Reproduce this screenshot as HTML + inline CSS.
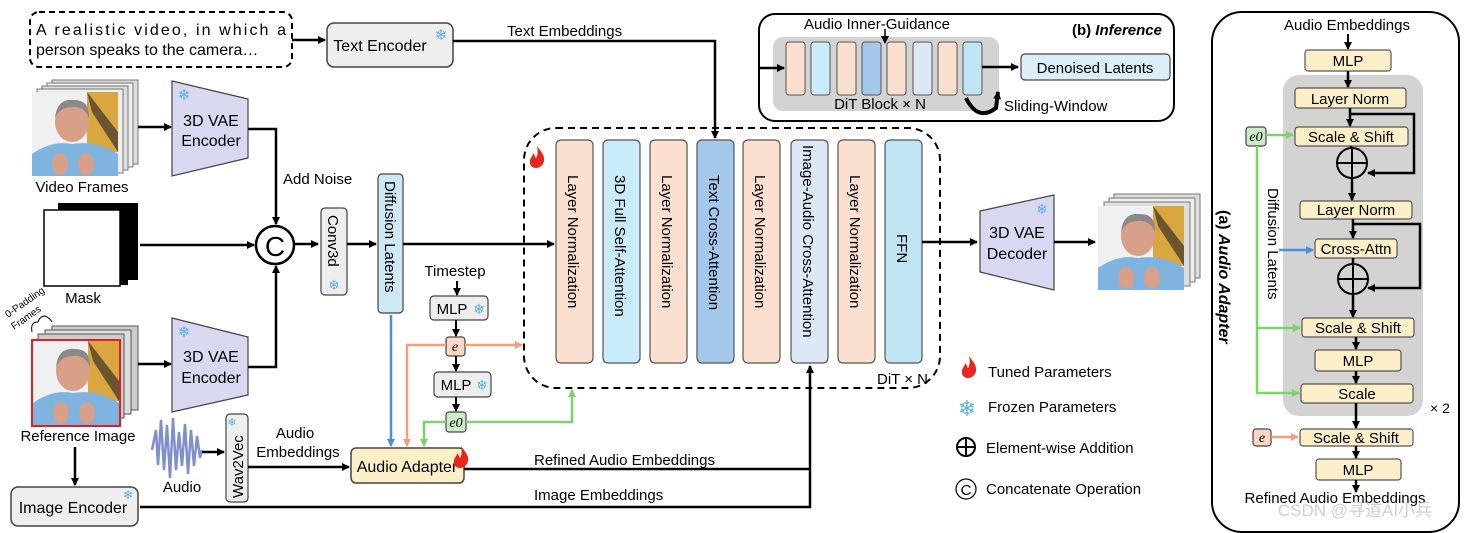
<!DOCTYPE html>
<html><head><meta charset="utf-8"><style>
html,body{margin:0;padding:0;background:#fff;}
svg{display:block;font-family:"Liberation Sans",Arial,sans-serif;}
</style></head><body>
<svg width="1473" height="533" viewBox="0 0 1473 533" xmlns="http://www.w3.org/2000/svg">
<defs>
<marker id="ak" markerWidth="8" markerHeight="8" refX="7" refY="4" orient="auto" markerUnits="userSpaceOnUse"><path d="M0,0 L8,4 L0,8 z" fill="#000"/></marker>
<marker id="ab" markerWidth="8" markerHeight="8" refX="7" refY="4" orient="auto" markerUnits="userSpaceOnUse"><path d="M0,0 L8,4 L0,8 z" fill="#4a90d9"/></marker>
<marker id="ao" markerWidth="8" markerHeight="8" refX="7" refY="4" orient="auto" markerUnits="userSpaceOnUse"><path d="M0,0 L8,4 L0,8 z" fill="#f0a07a"/></marker>
<marker id="ag" markerWidth="8" markerHeight="8" refX="7" refY="4" orient="auto" markerUnits="userSpaceOnUse"><path d="M0,0 L8,4 L0,8 z" fill="#7dd36a"/></marker>
<g id="face">
<rect x="0" y="0" width="86" height="84" fill="#eef0f2"/>
<rect x="55" y="0" width="31" height="60" fill="#d9a640"/>
<path d="M55,0 L86,40 L86,60 L60,20z" fill="#6b5530"/>
<ellipse cx="40" cy="30" rx="17" ry="20" fill="#d8a088"/>
<path d="M23,26 Q25,6 42,8 Q58,8 57,26 Q52,14 40,15 Q28,15 23,26z" fill="#8a8a8a"/>
<path d="M0,84 L0,62 Q20,48 40,52 Q64,48 86,62 L86,84z" fill="#7fb4e0"/>
<ellipse cx="28" cy="72" rx="8" ry="11" fill="#d8a088"/>
<ellipse cx="54" cy="72" rx="8" ry="11" fill="#d8a088"/>
</g>
<g id="flame"><path d="M6,0 C10,6 14,9 13,15 C12,20 8,22 5,22 C1,22 -2,19 -1,14 C0,11 2,10 2,7 C4,9 4,11 5,12 C7,9 7,5 6,0z" fill="#e8261b"/></g>
</defs>

<!-- Text prompt -->
<rect x="30" y="12" width="262" height="55" rx="9" fill="#fff" stroke="#000" stroke-width="2" stroke-dasharray="6,4"/>
<text x="36" y="35" font-size="16" textLength="250">A realistic video, in which a</text>
<text x="36" y="55" font-size="16">person speaks to the camera…</text>
<line x1="292" y1="40" x2="325" y2="40" stroke="#000" stroke-width="2.5" marker-end="url(#ak)"/>
<rect x="327" y="23" width="126" height="44" rx="7" fill="#eee" stroke="#444" stroke-width="1.5"/>
<text x="380" y="51" font-size="16" text-anchor="middle">Text Encoder</text>
<text x="441" y="40" font-size="15" fill="#5ab0e6" text-anchor="middle">❄</text>
<polyline points="453,41 715,41 715,138" fill="none" stroke="#000" stroke-width="2.5" marker-end="url(#ak)"/>
<text x="507" y="36" font-size="15">Text Embeddings</text>

<!-- Video frames -->
<rect x="52" y="80" width="86" height="84" fill="#ddd" stroke="#777"/>
<rect x="47" y="83" width="86" height="84" fill="#eee" stroke="#777"/>
<rect x="42" y="86" width="86" height="84" fill="#ddd" stroke="#777"/>
<rect x="37" y="89" width="86" height="84" fill="#eee" stroke="#777"/>
<use href="#face" x="32" y="92"/>
<text x="82" y="192" font-size="15" text-anchor="middle">Video Frames</text>
<line x1="138" y1="127" x2="171" y2="127" stroke="#000" stroke-width="2.5" marker-end="url(#ak)"/>
<path d="M172,81 L248,99 L248,158 L172,176z" fill="#d8d8f0" stroke="#444" stroke-width="1.2"/>
<text x="184" y="100" font-size="15" fill="#5ab0e6" text-anchor="middle">❄</text>
<text x="211" y="126" font-size="16" text-anchor="middle">3D VAE</text>
<text x="211" y="146" font-size="16" text-anchor="middle">Encoder</text>
<polyline points="248,129 276,129 276,224" fill="none" stroke="#000" stroke-width="2.5" marker-end="url(#ak)"/>
<text x="283" y="184" font-size="15">Add Noise</text>

<!-- Mask -->
<path d="M58,203 L138,203 L138,280 L128,280 L128,285 L58,285z" fill="#000"/>
<rect x="44" y="210" width="76" height="76" fill="#fff" stroke="#000" stroke-width="1.5"/>
<text x="83" y="303" font-size="15" text-anchor="middle">Mask</text>
<line x1="140" y1="245" x2="254" y2="245" stroke="#000" stroke-width="2.5" marker-end="url(#ak)"/>
<circle cx="275" cy="245" r="19" fill="#fff" stroke="#000" stroke-width="2.5"/>
<text x="275" y="256" font-size="28" text-anchor="middle">C</text>

<!-- Ref image -->
<text x="8" y="318" font-size="10" transform="rotate(-35 8 318)">0-Padding</text>
<text x="14" y="330" font-size="10" transform="rotate(-35 14 330)">Frames</text>
<path d="M32,332 Q30,322 38,322 Q40,316 45,316 Q50,318 52,322" fill="none" stroke="#000" stroke-width="1"/>
<rect x="52" y="326" width="86" height="84" fill="#ccc" stroke="#555"/>
<rect x="45" y="330" width="86" height="84" fill="#ddd" stroke="#555"/>
<rect x="38" y="334" width="86" height="84" fill="#ccc" stroke="#555"/>
<use href="#face" x="33" y="341"/>
<rect x="32" y="340" width="88" height="86" fill="none" stroke="#e02020" stroke-width="2"/>
<text x="78" y="441" font-size="15" text-anchor="middle">Reference Image</text>
<line x1="75" y1="447" x2="75" y2="485" stroke="#000" stroke-width="2.5" marker-end="url(#ak)"/>
<line x1="138" y1="364" x2="171" y2="364" stroke="#000" stroke-width="2.5" marker-end="url(#ak)"/>
<path d="M172,318 L248,337 L248,395 L172,412z" fill="#d8d8f0" stroke="#444" stroke-width="1.2"/>
<text x="184" y="337" font-size="15" fill="#5ab0e6" text-anchor="middle">❄</text>
<text x="211" y="362" font-size="16" text-anchor="middle">3D VAE</text>
<text x="211" y="383" font-size="16" text-anchor="middle">Encoder</text>
<polyline points="248,367 276,367 276,266" fill="none" stroke="#000" stroke-width="2.5" marker-end="url(#ak)"/>

<!-- Image encoder -->
<rect x="11" y="487" width="127" height="39" rx="7" fill="#eee" stroke="#444" stroke-width="1.5"/>
<text x="73" y="513" font-size="16" text-anchor="middle">Image Encoder</text>
<text x="128" y="499" font-size="12" fill="#5ab0e6" text-anchor="middle">❄</text>
<polyline points="140,507 810,507 810,366" fill="none" stroke="#000" stroke-width="2.5" marker-end="url(#ak)"/>
<text x="534" y="500" font-size="15">Image Embeddings</text>

<!-- Audio -->
<path d="M152,450 L156,430 L158,465 L161,420 L164,470 L167,425 L170,478 L173,418 L176,470 L179,432 L182,466 L185,424 L188,474 L191,430 L194,466 L197,436 L200,458 L202,450" fill="none" stroke="#8090c8" stroke-width="2.5"/>
<text x="182" y="492" font-size="15" text-anchor="middle">Audio</text>
<line x1="202" y1="452" x2="224" y2="452" stroke="#000" stroke-width="2.5" marker-end="url(#ak)"/>
<rect x="226" y="414" width="22" height="88" rx="4" fill="#eee" stroke="#444" stroke-width="1.2"/>
<text x="232" y="426" font-size="11" fill="#5ab0e6" text-anchor="middle">❄</text>
<text x="243" y="498" font-size="15" transform="rotate(-90 243 498)">Wav2Vec</text>
<line x1="248" y1="467" x2="349" y2="467" stroke="#000" stroke-width="2.5" marker-end="url(#ak)"/>
<text x="295" y="438" font-size="15" text-anchor="middle">Audio</text>
<text x="298" y="457" font-size="15" text-anchor="middle">Embeddings</text>

<!-- Conv3d / Diffusion latents -->
<line x1="295" y1="244" x2="318" y2="244" stroke="#000" stroke-width="2.5" marker-end="url(#ak)"/>
<rect x="321" y="208" width="26" height="87" rx="4" fill="#eee" stroke="#444" stroke-width="1.2"/>
<text x="328" y="215" font-size="15" transform="rotate(90 328 215)">Conv3d</text>
<text x="334" y="290" font-size="14" fill="#5ab0e6" text-anchor="middle">❄</text>
<line x1="347" y1="244" x2="376" y2="244" stroke="#000" stroke-width="2.5" marker-end="url(#ak)"/>
<rect x="378" y="174" width="25" height="139" rx="4" fill="#cfe8f5" stroke="#444" stroke-width="1.2"/>
<text x="385" y="181" font-size="15" transform="rotate(90 385 181)">Diffusion Latents</text>
<line x1="403" y1="244" x2="554" y2="244" stroke="#000" stroke-width="2.5" marker-end="url(#ak)"/>

<!-- Timestep -->
<text x="455" y="276" font-size="15" text-anchor="middle">Timestep</text>
<line x1="457" y1="281" x2="457" y2="295" stroke="#000" stroke-width="2" marker-end="url(#ak)"/>
<rect x="430" y="296" width="58" height="24" rx="4" fill="#eee" stroke="#444" stroke-width="1.2"/>
<text x="452" y="314" font-size="15" text-anchor="middle">MLP</text>
<text x="479" y="314" font-size="14" fill="#5ab0e6" text-anchor="middle">❄</text>
<line x1="456" y1="320" x2="456" y2="336" stroke="#000" stroke-width="2" marker-end="url(#ak)"/>
<rect x="446" y="337" width="19" height="19" rx="3" fill="#fbd8c6" stroke="#444" stroke-width="1.2"/>
<text x="455" y="351" font-size="14" font-style="italic" font-family="Liberation Serif,serif" text-anchor="middle">e</text>
<line x1="456" y1="356" x2="456" y2="371" stroke="#000" stroke-width="2" marker-end="url(#ak)"/>
<rect x="434" y="372" width="57" height="25" rx="4" fill="#eee" stroke="#444" stroke-width="1.2"/>
<text x="456" y="390" font-size="15" text-anchor="middle">MLP</text>
<text x="482" y="390" font-size="14" fill="#5ab0e6" text-anchor="middle">❄</text>
<line x1="456" y1="397" x2="456" y2="411" stroke="#000" stroke-width="2" marker-end="url(#ak)"/>
<rect x="446" y="412" width="20" height="20" rx="3" fill="#cdebc4" stroke="#444" stroke-width="1.2"/>
<text x="456" y="427" font-size="14" font-style="italic" font-family="Liberation Serif,serif" text-anchor="middle">e0</text>

<!-- colored lines -->
<line x1="391" y1="315" x2="391" y2="446" stroke="#4a90d9" stroke-width="2.5" marker-end="url(#ab)"/>
<polyline points="446,345 407,345 407,446" fill="none" stroke="#f0a07a" stroke-width="2.5" marker-end="url(#ao)"/>
<line x1="465" y1="345" x2="522" y2="345" stroke="#f0a07a" stroke-width="2.5" marker-end="url(#ao)"/>
<polyline points="446,422 424,422 424,446" fill="none" stroke="#7dd36a" stroke-width="2.5" marker-end="url(#ag)"/>
<polyline points="466,422 572,422 572,390" fill="none" stroke="#7dd36a" stroke-width="2.5" marker-end="url(#ag)"/>

<!-- Audio Adapter -->
<rect x="351" y="448" width="113" height="35" rx="5" fill="#fdf0c8" stroke="#444" stroke-width="1.5"/>
<text x="407" y="472" font-size="16" text-anchor="middle">Audio Adapter</text>
<use href="#flame" x="455" y="446" transform="scale(1)"/>
<line x1="464" y1="469" x2="810" y2="469" stroke="#000" stroke-width="2.5"/>
<text x="534" y="465" font-size="15">Refined Audio Embeddings</text>

<!-- DiT block -->
<rect x="524" y="128" width="416" height="260" rx="32" fill="none" stroke="#000" stroke-width="2" stroke-dasharray="7,5"/>
<use href="#flame" x="531" y="146" transform="scale(1)"/>
<g stroke="#555" stroke-width="1.2">
<rect x="556" y="140" width="37" height="223" rx="5" fill="#fbe0d0"/>
<rect x="603" y="140" width="37" height="223" rx="5" fill="#c9ecfa"/>
<rect x="650" y="140" width="37" height="223" rx="5" fill="#fbe0d0"/>
<rect x="697" y="140" width="37" height="223" rx="5" fill="#a3c8ec"/>
<rect x="743" y="140" width="37" height="223" rx="5" fill="#fbe0d0"/>
<rect x="791" y="140" width="37" height="223" rx="5" fill="#dce8f6"/>
<rect x="838" y="140" width="37" height="223" rx="5" fill="#fbe0d0"/>
<rect x="885" y="140" width="37" height="223" rx="5" fill="#bfe4f4"/>
</g>
<g font-size="15">
<text x="568" y="175" transform="rotate(90 568 175)">Layer Normalization</text>
<text x="615" y="175" transform="rotate(90 615 175)">3D Full Self-Attention</text>
<text x="662" y="175" transform="rotate(90 662 175)">Layer Normalization</text>
<text x="709" y="175" transform="rotate(90 709 175)">Text Cross-Attention</text>
<text x="755" y="175" transform="rotate(90 755 175)">Layer Normalization</text>
<text x="803" y="145" transform="rotate(90 803 145)">Image-Audio Cross-Attention</text>
<text x="850" y="175" transform="rotate(90 850 175)">Layer Normalization</text>
<text x="897" y="234" transform="rotate(90 897 234)">FFN</text>
</g>
<text x="877" y="384" font-size="15">DiT × N</text>

<!-- decoder -->
<line x1="922" y1="242" x2="977" y2="242" stroke="#000" stroke-width="2.5" marker-end="url(#ak)"/>
<path d="M980,211 L1054,195 L1054,290 L980,272z" fill="#d8d8f0" stroke="#444" stroke-width="1.2"/>
<text x="1042" y="214" font-size="14" fill="#5ab0e6" text-anchor="middle">❄</text>
<text x="1017" y="238" font-size="16" text-anchor="middle">3D VAE</text>
<text x="1017" y="259" font-size="16" text-anchor="middle">Decoder</text>
<line x1="1054" y1="242" x2="1095" y2="242" stroke="#000" stroke-width="2.5" marker-end="url(#ak)"/>
<rect x="1114" y="194" width="86" height="84" fill="#ddd" stroke="#777"/>
<rect x="1109" y="198" width="86" height="84" fill="#eee" stroke="#777"/>
<rect x="1104" y="202" width="86" height="84" fill="#ddd" stroke="#777"/>
<use href="#face" x="1098" y="206"/>

<!-- Inference -->
<rect x="759" y="14" width="415" height="107" rx="16" fill="#fff" stroke="#000" stroke-width="2"/>
<rect x="773" y="37" width="226" height="74" rx="10" fill="#d3d3d3"/>
<g stroke="#555" stroke-width="1">
<rect x="786" y="42" width="19" height="53" rx="3" fill="#fbe0d0"/>
<rect x="811" y="42" width="19" height="53" rx="3" fill="#c9ecfa"/>
<rect x="837" y="42" width="19" height="53" rx="3" fill="#fbe0d0"/>
<rect x="862" y="42" width="19" height="53" rx="3" fill="#a3c8ec"/>
<rect x="887" y="42" width="19" height="53" rx="3" fill="#fbe0d0"/>
<rect x="913" y="42" width="19" height="53" rx="3" fill="#dce8f6"/>
<rect x="938" y="42" width="19" height="53" rx="3" fill="#fbe0d0"/>
<rect x="963" y="42" width="19" height="53" rx="3" fill="#bfe4f4"/>
</g>
<text x="877" y="29" font-size="15" text-anchor="middle">Audio Inner-Guidance</text>
<line x1="885" y1="29" x2="885" y2="43" stroke="#000" stroke-width="1.5" marker-end="url(#ak)"/>
<text x="1162" y="35" font-size="15" font-weight="bold" text-anchor="end">(b) <tspan font-style="italic">Inference</tspan></text>
<line x1="759" y1="68" x2="784" y2="68" stroke="#000" stroke-width="2.5" marker-end="url(#ak)"/>
<line x1="982" y1="67" x2="1018" y2="67" stroke="#000" stroke-width="2.5" marker-end="url(#ak)"/>
<rect x="1021" y="54" width="149" height="26" rx="4" fill="#dceef8" stroke="#444" stroke-width="1.2"/>
<text x="1095" y="73" font-size="15" text-anchor="middle">Denoised Latents</text>
<text x="880" y="109" font-size="15" text-anchor="middle">DiT Block  × N</text>
<path d="M966,98 Q978,122 996,108 L998,92" fill="none" stroke="#000" stroke-width="4" marker-end="url(#ak)"/>
<text x="1004" y="111" font-size="15">Sliding-Window</text>

<!-- legend -->
<use href="#flame" x="963" y="356"/>
<text x="988" y="377" font-size="15">Tuned Parameters</text>
<text x="967" y="416" font-size="22" fill="#5ab0e6" text-anchor="middle">❄</text>
<text x="988" y="412" font-size="15">Frozen Parameters</text>
<circle cx="966" cy="447" r="9" fill="#fff" stroke="#000" stroke-width="2"/>
<line x1="957" y1="447" x2="975" y2="447" stroke="#000" stroke-width="2"/>
<line x1="966" y1="438" x2="966" y2="456" stroke="#000" stroke-width="2"/>
<text x="986" y="453" font-size="15">Element-wise Addition</text>
<circle cx="966" cy="489" r="10" fill="#fff" stroke="#000" stroke-width="1.2"/>
<text x="966" y="495" font-size="15" text-anchor="middle">C</text>
<text x="986" y="494" font-size="15">Concatenate Operation</text>

<!-- Audio adapter panel -->
<rect x="1212" y="12" width="247" height="520" rx="30" fill="#fff" stroke="#000" stroke-width="2"/>
<text x="1347" y="30" font-size="15" text-anchor="middle">Audio Embeddings</text>
<line x1="1348" y1="34" x2="1348" y2="49" stroke="#000" stroke-width="2" marker-end="url(#ak)"/>
<rect x="1283" y="75" width="140" height="341" rx="16" fill="#d3d3d3"/>
<g stroke="#555" stroke-width="1.2" fill="#fdf0c8">
<rect x="1305" y="50" width="86" height="21" rx="3"/>
<rect x="1295" y="88" width="111" height="20" rx="3"/>
<rect x="1295" y="127" width="113" height="19" rx="3"/>
<rect x="1300" y="201" width="112" height="18" rx="3"/>
<rect x="1315" y="239" width="82" height="19" rx="3"/>
<rect x="1302" y="318" width="112" height="19" rx="3"/>
<rect x="1315" y="350" width="86" height="21" rx="3"/>
<rect x="1301" y="384" width="112" height="19" rx="3"/>
<rect x="1300" y="429" width="113" height="17" rx="3"/>
<rect x="1316" y="459" width="85" height="21" rx="3"/>
</g>
<g font-size="15" text-anchor="middle">
<text x="1348" y="66">MLP</text>
<text x="1350" y="104">Layer Norm</text>
<text x="1351" y="142">Scale &amp; Shift</text>
<text x="1356" y="215">Layer Norm</text>
<text x="1356" y="254">Cross-Attn</text>
<text x="1358" y="333">Scale &amp; Shift</text>
<text x="1358" y="366">MLP</text>
<text x="1357" y="399">Scale</text>
<text x="1356" y="443">Scale &amp; Shift</text>
<text x="1358" y="475">MLP</text>
</g>
<g stroke="#000" stroke-width="2.5" fill="none">
<line x1="1348" y1="71" x2="1348" y2="87" marker-end="url(#ak)"/>
<line x1="1350" y1="108" x2="1350" y2="126" marker-end="url(#ak)"/>
<polyline points="1350,114 1414,114 1414,173 1368,173" marker-end="url(#ak)"/>
<line x1="1351" y1="146" x2="1351" y2="148"/>
<line x1="1352" y1="178" x2="1352" y2="200" marker-end="url(#ak)"/>
<line x1="1353" y1="219" x2="1353" y2="238" marker-end="url(#ak)"/>
<polyline points="1353,224 1420,224 1420,288 1368,288" marker-end="url(#ak)"/>
<line x1="1353" y1="258" x2="1353" y2="264"/>
<line x1="1353" y1="294" x2="1353" y2="317" marker-end="url(#ak)"/>
<line x1="1356" y1="337" x2="1356" y2="349" marker-end="url(#ak)"/>
<line x1="1356" y1="371" x2="1356" y2="383" marker-end="url(#ak)"/>
<line x1="1356" y1="403" x2="1356" y2="428" marker-end="url(#ak)"/>
<line x1="1356" y1="446" x2="1356" y2="458" marker-end="url(#ak)"/>
<line x1="1356" y1="480" x2="1356" y2="492" marker-end="url(#ak)"/>
</g>
<circle cx="1352" cy="163" r="15" fill="none" stroke="#000" stroke-width="2"/>
<line x1="1337" y1="163" x2="1367" y2="163" stroke="#000" stroke-width="2"/>
<line x1="1352" y1="148" x2="1352" y2="178" stroke="#000" stroke-width="2"/>
<circle cx="1353" cy="279" r="15" fill="none" stroke="#000" stroke-width="2"/>
<line x1="1338" y1="279" x2="1368" y2="279" stroke="#000" stroke-width="2"/>
<line x1="1353" y1="264" x2="1353" y2="294" stroke="#000" stroke-width="2"/>
<text x="1430" y="413" font-size="14">× 2</text>
<rect x="1246" y="127" width="20" height="19" rx="3" fill="#cdebc4" stroke="#444" stroke-width="1.2"/>
<text x="1256" y="141" font-size="14" font-style="italic" font-family="Liberation Serif,serif" text-anchor="middle">e0</text>
<g stroke="#7dd36a" stroke-width="2.5" fill="none">
<line x1="1266" y1="135" x2="1293" y2="135" marker-end="url(#ag)"/>
<polyline points="1257,146 1257,393 1299,393" marker-end="url(#ag)"/>
<line x1="1257" y1="328" x2="1300" y2="328" marker-end="url(#ag)"/>
</g>
<line x1="1279" y1="250" x2="1313" y2="250" stroke="#4a90d9" stroke-width="2.5" marker-end="url(#ab)"/>
<text x="1268" y="188" font-size="15" transform="rotate(90 1268 188)">Diffusion Latents</text>
<text x="1219" y="210" font-size="16" font-weight="bold" transform="rotate(90 1219 210)">(a) <tspan font-style="italic">Audio Adapter</tspan></text>
<rect x="1253" y="429" width="18" height="17" rx="3" fill="#fbd8c6" stroke="#444" stroke-width="1.2"/>
<text x="1262" y="442" font-size="14" font-style="italic" font-family="Liberation Serif,serif" text-anchor="middle">e</text>
<line x1="1271" y1="437" x2="1298" y2="437" stroke="#f0a07a" stroke-width="2.5" marker-end="url(#ao)"/>
<text x="1335" y="503" font-size="15" text-anchor="middle">Refined Audio Embeddings</text>
<text x="1355" y="516" font-size="17" fill="#cfcfcf" text-anchor="middle" font-family="Liberation Sans,Noto Sans CJK SC,sans-serif">CSDN @寻道AI小兵</text>
</svg>
</body></html>
